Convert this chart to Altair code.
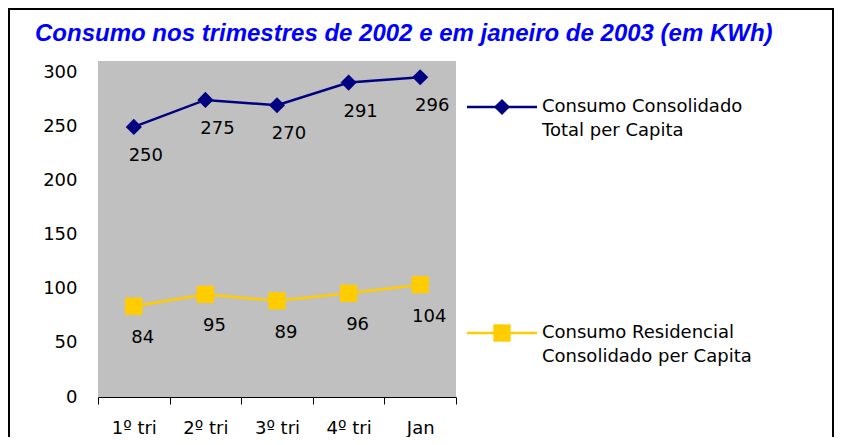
import altair as alt
import pandas as pd

categories = ["1º tri", "2º tri", "3º tri", "4º tri", "Jan"]
series_total = "Consumo Consolidado Total per Capita"
series_res = "Consumo Residencial Consolidado per Capita"
values_total = [250, 275, 270, 291, 296]
values_res = [84, 95, 89, 96, 104]
y_ticks = [0, 50, 100, 150, 200, 250, 300]
title_text = "Consumo nos trimestres de 2002 e em janeiro de 2003 (em KWh)"
legend_total = ["Consumo Consolidado", "Total per Capita"]
legend_res = ["Consumo Residencial", "Consolidado per Capita"]

NAVY = "#000080"
GOLD = "#FFCC00"
FONT = "DejaVu Sans"

rows = []
for c, v in zip(categories, values_total):
    rows.append({"cat": c, "value": v, "series": series_total})
for c, v in zip(categories, values_res):
    rows.append({"cat": c, "value": v, "series": series_res})
df = pd.DataFrame(rows)

W, H = 358, 336

x = alt.X("cat:N", sort=categories,
          scale=alt.Scale(type="band", paddingInner=0, paddingOuter=0),
          axis=alt.Axis(title=None, labelAngle=0, tickBand="extent", domainColor="black",
                        tickColor="black", tickSize=7, domainWidth=1, tickWidth=1,
                        labelFont=FONT, labelFontSize=18, labelColor="black",
                        labelPadding=15, grid=False))
y = alt.Y("value:Q", scale=alt.Scale(domain=[0, 311], nice=False, zero=True),
          axis=alt.Axis(title=None, values=y_ticks, domain=False, ticks=False, grid=False,
                        labelFont=FONT, labelFontSize=18, labelColor="black",
                        labelPadding=21))
color = alt.Color("series:N", scale=alt.Scale(domain=[series_total, series_res], range=[NAVY, GOLD]), legend=None)

base = alt.Chart(df)
lines = base.mark_line(strokeWidth=2.5).encode(x=x, y=y, color=color, detail="series:N")
pts_total = base.transform_filter(alt.datum.series == series_total).mark_point(
    shape="diamond", filled=True, size=260, opacity=1, color=NAVY).encode(x=x, y=y)
pts_res = base.transform_filter(alt.datum.series == series_res).mark_point(
    shape="square", filled=True, size=300, opacity=1, color=GOLD).encode(x=x, y=y)
lab_total = base.transform_filter(alt.datum.series == series_total).mark_text(
    font=FONT, fontSize=18, color="black", dx=12, dy=29, align="center", baseline="middle"
).encode(x=x, y=y, text="value:Q")
lab_res = base.transform_filter(alt.datum.series == series_res).mark_text(
    font=FONT, fontSize=18, color="black", dx=9, dy=32, align="center", baseline="middle"
).encode(x=x, y=y, text="value:Q")

one = pd.DataFrame({"t": [title_text]})
frame = alt.Chart(one).mark_rect(filled=False, stroke="black", strokeWidth=2).encode(
    x=alt.value(-89), x2=alt.value(735), y=alt.value(-52), y2=alt.value(430))
title = alt.Chart(one).mark_text(font="Liberation Sans", fontSize=24, fontWeight="bold",
                                 fontStyle="italic", color="#0000FF", align="left",
                                 baseline="middle").encode(
    x=alt.value(-63), y=alt.value(-27), text="t:N")

def legend_entry(labels, col, shp, yc):
    d = pd.DataFrame({"t": ["\n".join(labels)]})
    r = alt.Chart(d).mark_rule(color=col, strokeWidth=2.5).encode(
        x=alt.value(369), x2=alt.value(439), y=alt.value(yc))
    p = alt.Chart(d).mark_point(shape=shp, filled=True, size=260 if shp == "diamond" else 300,
                                opacity=1, color=col).encode(x=alt.value(404), y=alt.value(yc))
    t = alt.Chart(d).mark_text(font=FONT, fontSize=18, color="black", align="left",
                               baseline="middle", lineBreak="\n", lineHeight=24).encode(
        x=alt.value(444), y=alt.value(yc), text="t:N")
    return [r, p, t]

leg = legend_entry(legend_total, NAVY, "diamond", 46) + legend_entry(legend_res, GOLD, "square", 272)

chart = alt.layer(frame, title, lines, pts_total, pts_res, lab_total, lab_res, *leg).properties(
    width=W, height=H,
    autosize=alt.AutoSizeParams(type="none"),
    padding={"left": 90, "top": 53, "right": 378, "bottom": 40},
).configure(background="white").configure_view(fill="#C0C0C0", stroke=None, strokeWidth=0)

chart.save("out.html", embed_options={"renderer": "svg", "actions": False})
